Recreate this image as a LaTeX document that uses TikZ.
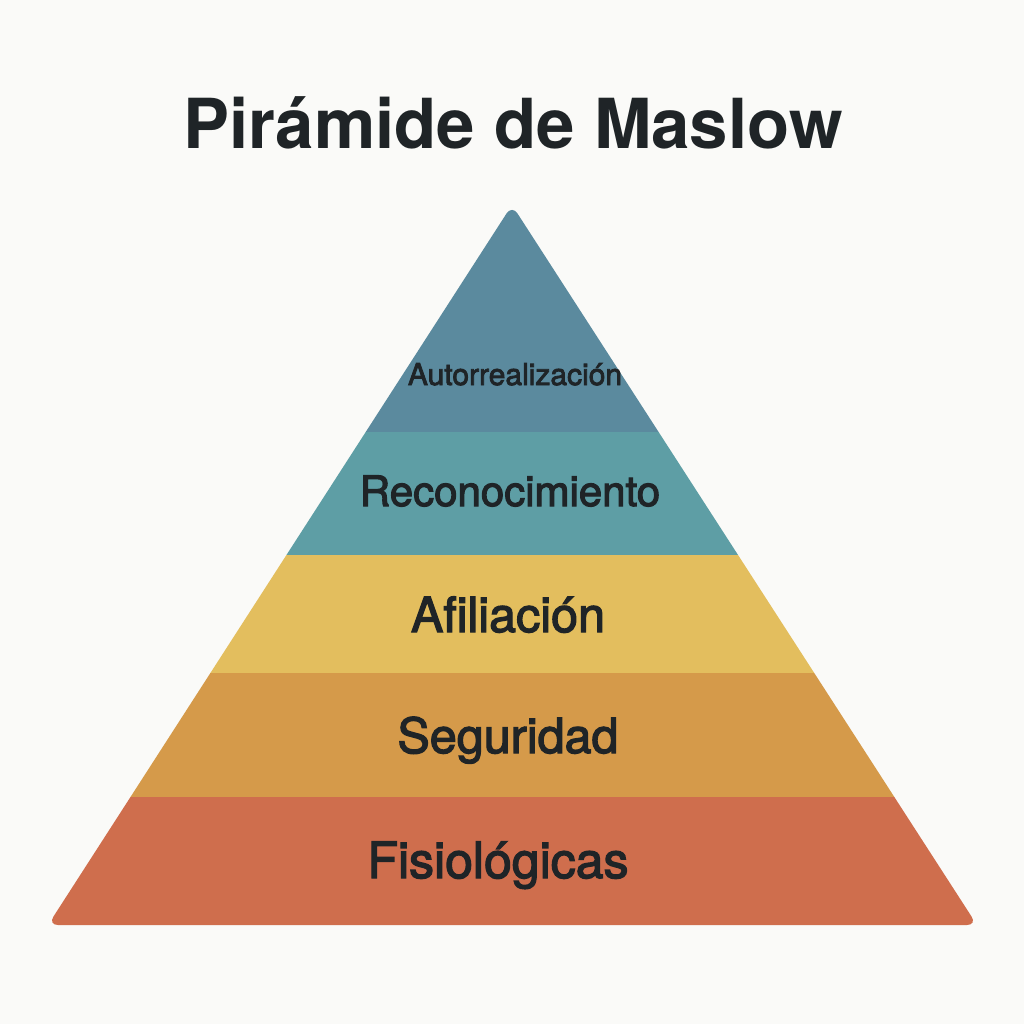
\documentclass[tikz,border=0pt]{standalone}
\usepackage{fontspec}
\setmainfont{TeX Gyre Heros}
\newfontfamily\layerfont[FakeBold=2.6]{TeX Gyre Heros}
\definecolor{paper}{HTML}{FAFAF8}
\definecolor{inkdark}{HTML}{1F2427}
\definecolor{selfcol}{HTML}{5B8A9E}
\definecolor{esteemcol}{HTML}{5E9EA5}
\definecolor{lovecol}{HTML}{E3BE5E}
\definecolor{safetycol}{HTML}{D59A4A}
\definecolor{bodycol}{HTML}{CF6E4D}

\begin{document}
\begin{tikzpicture}[x=1pt,y=-1pt,
    layerlabel/.style={anchor=base,inner sep=0pt,text=inkdark}]
\fill[paper] (0,0) rectangle (1024,1024);
\node[layerlabel,font=\fontsize{69}{80}\selectfont\bfseries] (title) at (513,149) {Pirámide de Maslow};
\begin{scope}
    \clip[rounded corners=10pt] (512,205) -- (977,925) -- (48,925) -- cycle;
    \fill[selfcol] (0,200) rectangle (1024,432);
    \fill[esteemcol] (0,432) rectangle (1024,555);
    \fill[lovecol] (0,555) rectangle (1024,673);
    \fill[safetycol] (0,673) rectangle (1024,797);
    \fill[bodycol] (0,797) rectangle (1024,930);
\end{scope}
\node[layerlabel,font=\layerfont\fontsize{30}{36}\selectfont] (self) at (515,385) {Autorrealización};
\node[layerlabel,font=\layerfont\fontsize{42}{50}\selectfont] (esteem) at (510,506) {Reconocimiento};
\node[layerlabel,font=\layerfont\fontsize{48.5}{56}\selectfont] (love) at (508,632) {Afiliación};
\node[layerlabel,font=\layerfont\fontsize{48.5}{56}\selectfont] (safety) at (508,753) {Seguridad};
\node[layerlabel,font=\layerfont\fontsize{50}{58}\selectfont] (body) at (498,878) {Fisiológicas};
\end{tikzpicture}
\end{document}
